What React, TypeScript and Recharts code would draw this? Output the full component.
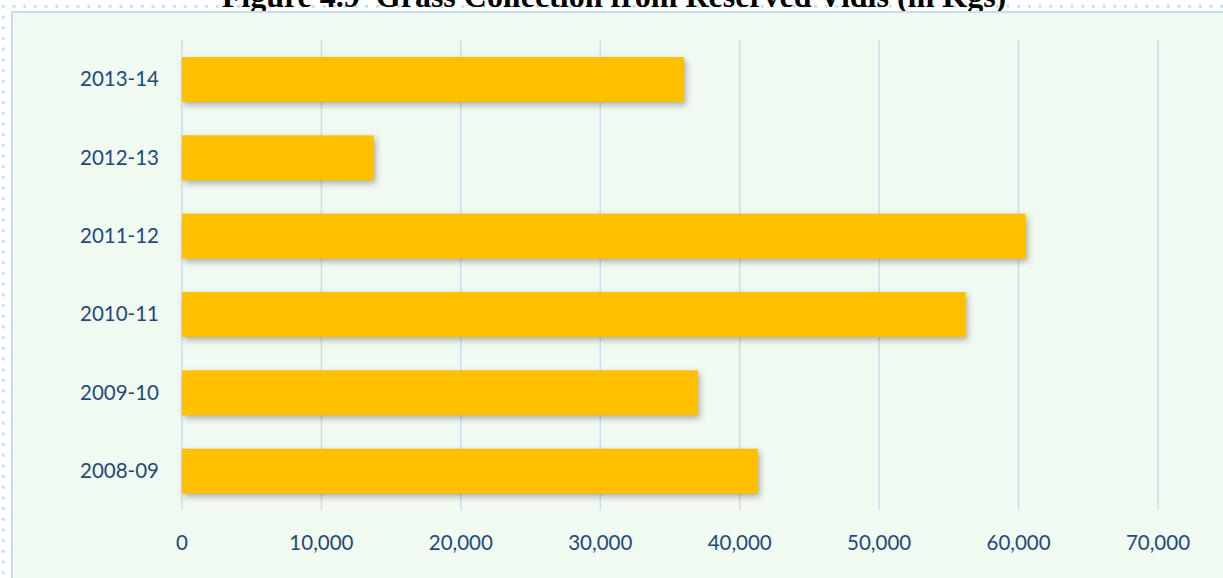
import { BarChart, Bar, XAxis, YAxis, CartesianGrid } from 'recharts';

const years = ['2008-09', '2009-10', '2010-11', '2011-12', '2012-13', '2013-14'];
const grassKgs = [41300, 37000, 56200, 60500, 13750, 36000];
const xTicks = [0, 10000, 20000, 30000, 40000, 50000, 60000, 70000];

const chartTitle = 'Figure 4.9  Grass Collection from Reserved Vidis (in Kgs)';

const data = years.map((year, i) => ({ year, kgs: grassKgs[i] }));

const tickStyle = { fill: '#1F497D', fontSize: 20.5, fontFamily: 'Lato' };

// bar with the soft office-style shadow
function ShadowBar(props: any) {
  const { x, y, width, height, fill } = props;
  return (
    <rect
      x={x}
      y={y}
      width={width}
      height={height}
      fill={fill}
      style={{ filter: 'drop-shadow(2px 3px 3px rgba(60,60,60,0.4))' }}
    />
  );
}

export default function App() {
  return (
    <div
      style={{
        position: 'absolute',
        left: 0,
        top: 0,
        width: 1223,
        height: 578,
        overflow: 'hidden',
        backgroundColor: '#ffffff',
        backgroundImage: 'radial-gradient(circle, #c3dcee 1.3px, transparent 1.8px)',
        backgroundSize: '10.7px 10.7px',
        backgroundPosition: '-2px 1px'
      }}
    >
      {/* title sits behind the chart box, so its lower part gets cut */}
      <svg width={1223} height={578} style={{ position: 'absolute', left: 0, top: 0 }}>
        <text
          x={614}
          y={7}
          textAnchor="middle"
          fontFamily="'Liberation Serif', 'Times New Roman', serif"
          fontWeight="bold"
          fontSize={32}
          fill="#000"
          style={{ whiteSpace: 'pre' }}
        >
          {chartTitle}
        </text>
      </svg>
      <div
        style={{
          position: 'absolute',
          left: 11,
          top: 11,
          width: 1240,
          height: 600,
          backgroundColor: '#F1FAF1',
          border: '2px solid #C9DCF0'
        }}
      />
      <div style={{ position: 'absolute', left: 0, top: 0 }}>
        <BarChart
          width={1223}
          height={578}
          layout="vertical"
          data={data}
          margin={{ top: 40, right: 65, bottom: 28, left: 0 }}
        >
          <CartesianGrid horizontal={false} stroke="#CEDCEF" strokeWidth={1.5} />
          <XAxis
            type="number"
            domain={[0, 70000]}
            ticks={xTicks}
            interval={0}
            axisLine={false}
            tickLine={false}
            tickSize={0}
            tickMargin={25}
            height={40}
            tick={tickStyle}
            tickFormatter={(v: number) => v.toLocaleString('en-US')}
          />
          <YAxis
            type="category"
            dataKey="year"
            reversed
            width={182}
            axisLine={false}
            tickLine={false}
            tickSize={0}
            tickMargin={23}
            tick={tickStyle}
          />
          <Bar
            dataKey="kgs"
            fill="#FFC000"
            barSize={45}
            shape={ShadowBar}
            isAnimationActive={false}
          />
        </BarChart>
      </div>
    </div>
  );
}
